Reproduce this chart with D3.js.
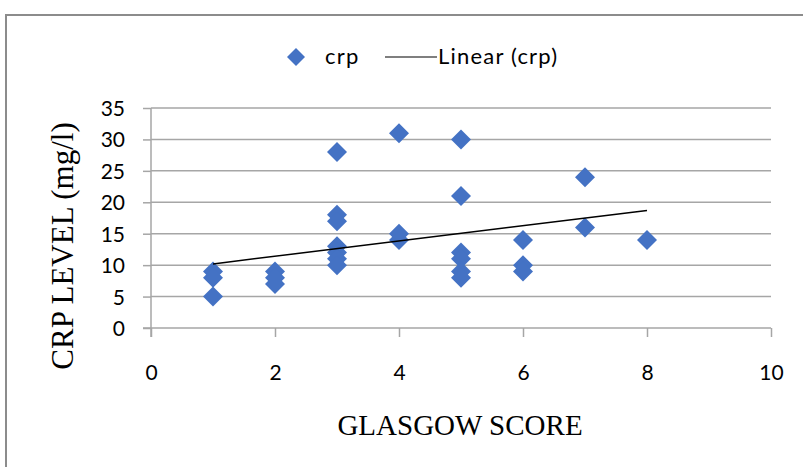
<!DOCTYPE html>
<html>
<head>
<meta charset="utf-8">
<script src="https://cdn.jsdelivr.net/npm/d3@7"></script>
<style>
  body { margin: 0; background: #fff; }
  .tick text { font-family: Lato, "Open Sans", sans-serif; font-size: 21px; fill: #000; }
</style>
</head>
<body>
<div id="chart"></div>
<script>
// glasgow score (x) and crp level (y)
const glasgow = [1, 1, 1, 2, 2, 2, 3, 3, 3, 3, 3, 3, 3, 4, 4, 4, 5, 5, 5, 5, 5, 5, 6, 6, 6, 7, 7, 8];
const crp     = [9, 8, 5, 9, 8, 7, 28, 18, 17, 13, 12, 11, 10, 31, 15, 14, 30, 21, 12, 11, 9, 8, 14, 10, 9, 24, 16, 14];

// linear trendline end points (as drawn in the picture)
const trendX = [1, 8];
const trendY = [10.2, 18.7];

const xTicks = [0, 2, 4, 6, 8, 10];
const yTicks = [0, 5, 10, 15, 20, 25, 30, 35];

const width = 803, height = 467;
const plot = { left: 151, right: 771, top: 108, bottom: 328 };

const svg = d3.select("#chart").append("svg")
    .attr("width", width)
    .attr("height", height);

// outer chart border (only top and left visible)
svg.append("path")
    .attr("d", "M6,467 L6,15 L803,15")
    .attr("fill", "none")
    .attr("stroke", "#8c8c8c")
    .attr("stroke-width", 2);

const x = d3.scaleLinear().domain([0, 10]).range([plot.left, plot.right]);
const y = d3.scaleLinear().domain([0, 35]).range([plot.bottom, plot.top]);

// gridlines
svg.append("g")
    .selectAll("line")
    .data(yTicks.filter(d => d > 0))
    .enter().append("line")
    .attr("x1", plot.left)
    .attr("x2", plot.right)
    .attr("y1", d => y(d))
    .attr("y2", d => y(d))
    .attr("stroke", "#a6a6a6")
    .attr("stroke-width", 1.5);

// axes
const xAxis = svg.append("g")
    .attr("transform", "translate(0," + plot.bottom + ")")
    .call(d3.axisBottom(x).tickValues(xTicks).tickSize(9).tickSizeOuter(0));
xAxis.selectAll(".tick text").attr("dy", null).attr("y", 52);

const yAxis = svg.append("g")
    .attr("transform", "translate(" + plot.left + ",0)")
    .call(d3.axisLeft(y).tickValues(yTicks).tickSize(8).tickPadding(18).tickSizeOuter(0));
yAxis.selectAll(".tick text").attr("dy", "0.36em");

svg.selectAll(".domain, .tick line")
    .attr("stroke", "#a6a6a6")
    .attr("stroke-width", 1.5);
// y axis line runs down to the x tick length, x axis line starts at the y tick length
yAxis.select(".domain").attr("d", "M0," + plot.top + "V" + (plot.bottom + 9));
xAxis.select(".domain").attr("d", "M" + (plot.left - 8) + ",0H" + plot.right);

// markers
const diamond = "M0,-10L10,0L0,10L-10,0Z";
const points = glasgow.map((g, i) => ({ g: g, v: crp[i] }));

svg.append("g")
    .selectAll("path")
    .data(points)
    .enter().append("path")
    .attr("d", diamond)
    .attr("transform", d => "translate(" + x(d.g) + "," + y(d.v) + ")")
    .attr("fill", "#4472c4");

// trendline
svg.append("line")
    .attr("x1", x(trendX[0]))
    .attr("y1", y(trendY[0]))
    .attr("x2", x(trendX[1]))
    .attr("y2", y(trendY[1]))
    .attr("stroke", "#000")
    .attr("stroke-width", 1.5);

// legend
const legend = svg.append("g")
    .attr("font-family", "Lato, 'Open Sans', sans-serif")
    .attr("font-size", 22)
    .attr("letter-spacing", 1.2);

legend.append("path")
    .attr("d", "M0,-9L9,0L0,9L-9,0Z")
    .attr("transform", "translate(296,57)")
    .attr("fill", "#4472c4");
legend.append("text").attr("x", 325).attr("y", 64).text("crp");
legend.append("line")
    .attr("x1", 385).attr("x2", 437)
    .attr("y1", 57).attr("y2", 57)
    .attr("stroke", "#000")
    .attr("stroke-width", 1.2);
legend.append("text").attr("x", 438).attr("y", 64).text("Linear (crp)");

// axis titles
svg.append("text")
    .attr("x", 460)
    .attr("y", 435)
    .attr("text-anchor", "middle")
    .attr("font-family", "'Liberation Serif', 'Times New Roman', serif")
    .attr("font-size", 29)
    .text("GLASGOW SCORE");

svg.append("text")
    .attr("transform", "translate(73,246) rotate(-90)")
    .attr("text-anchor", "middle")
    .attr("font-family", "'Liberation Serif', 'Times New Roman', serif")
    .attr("font-size", 31)
    .text("CRP LEVEL (mg/l)");
</script>
</body>
</html>
